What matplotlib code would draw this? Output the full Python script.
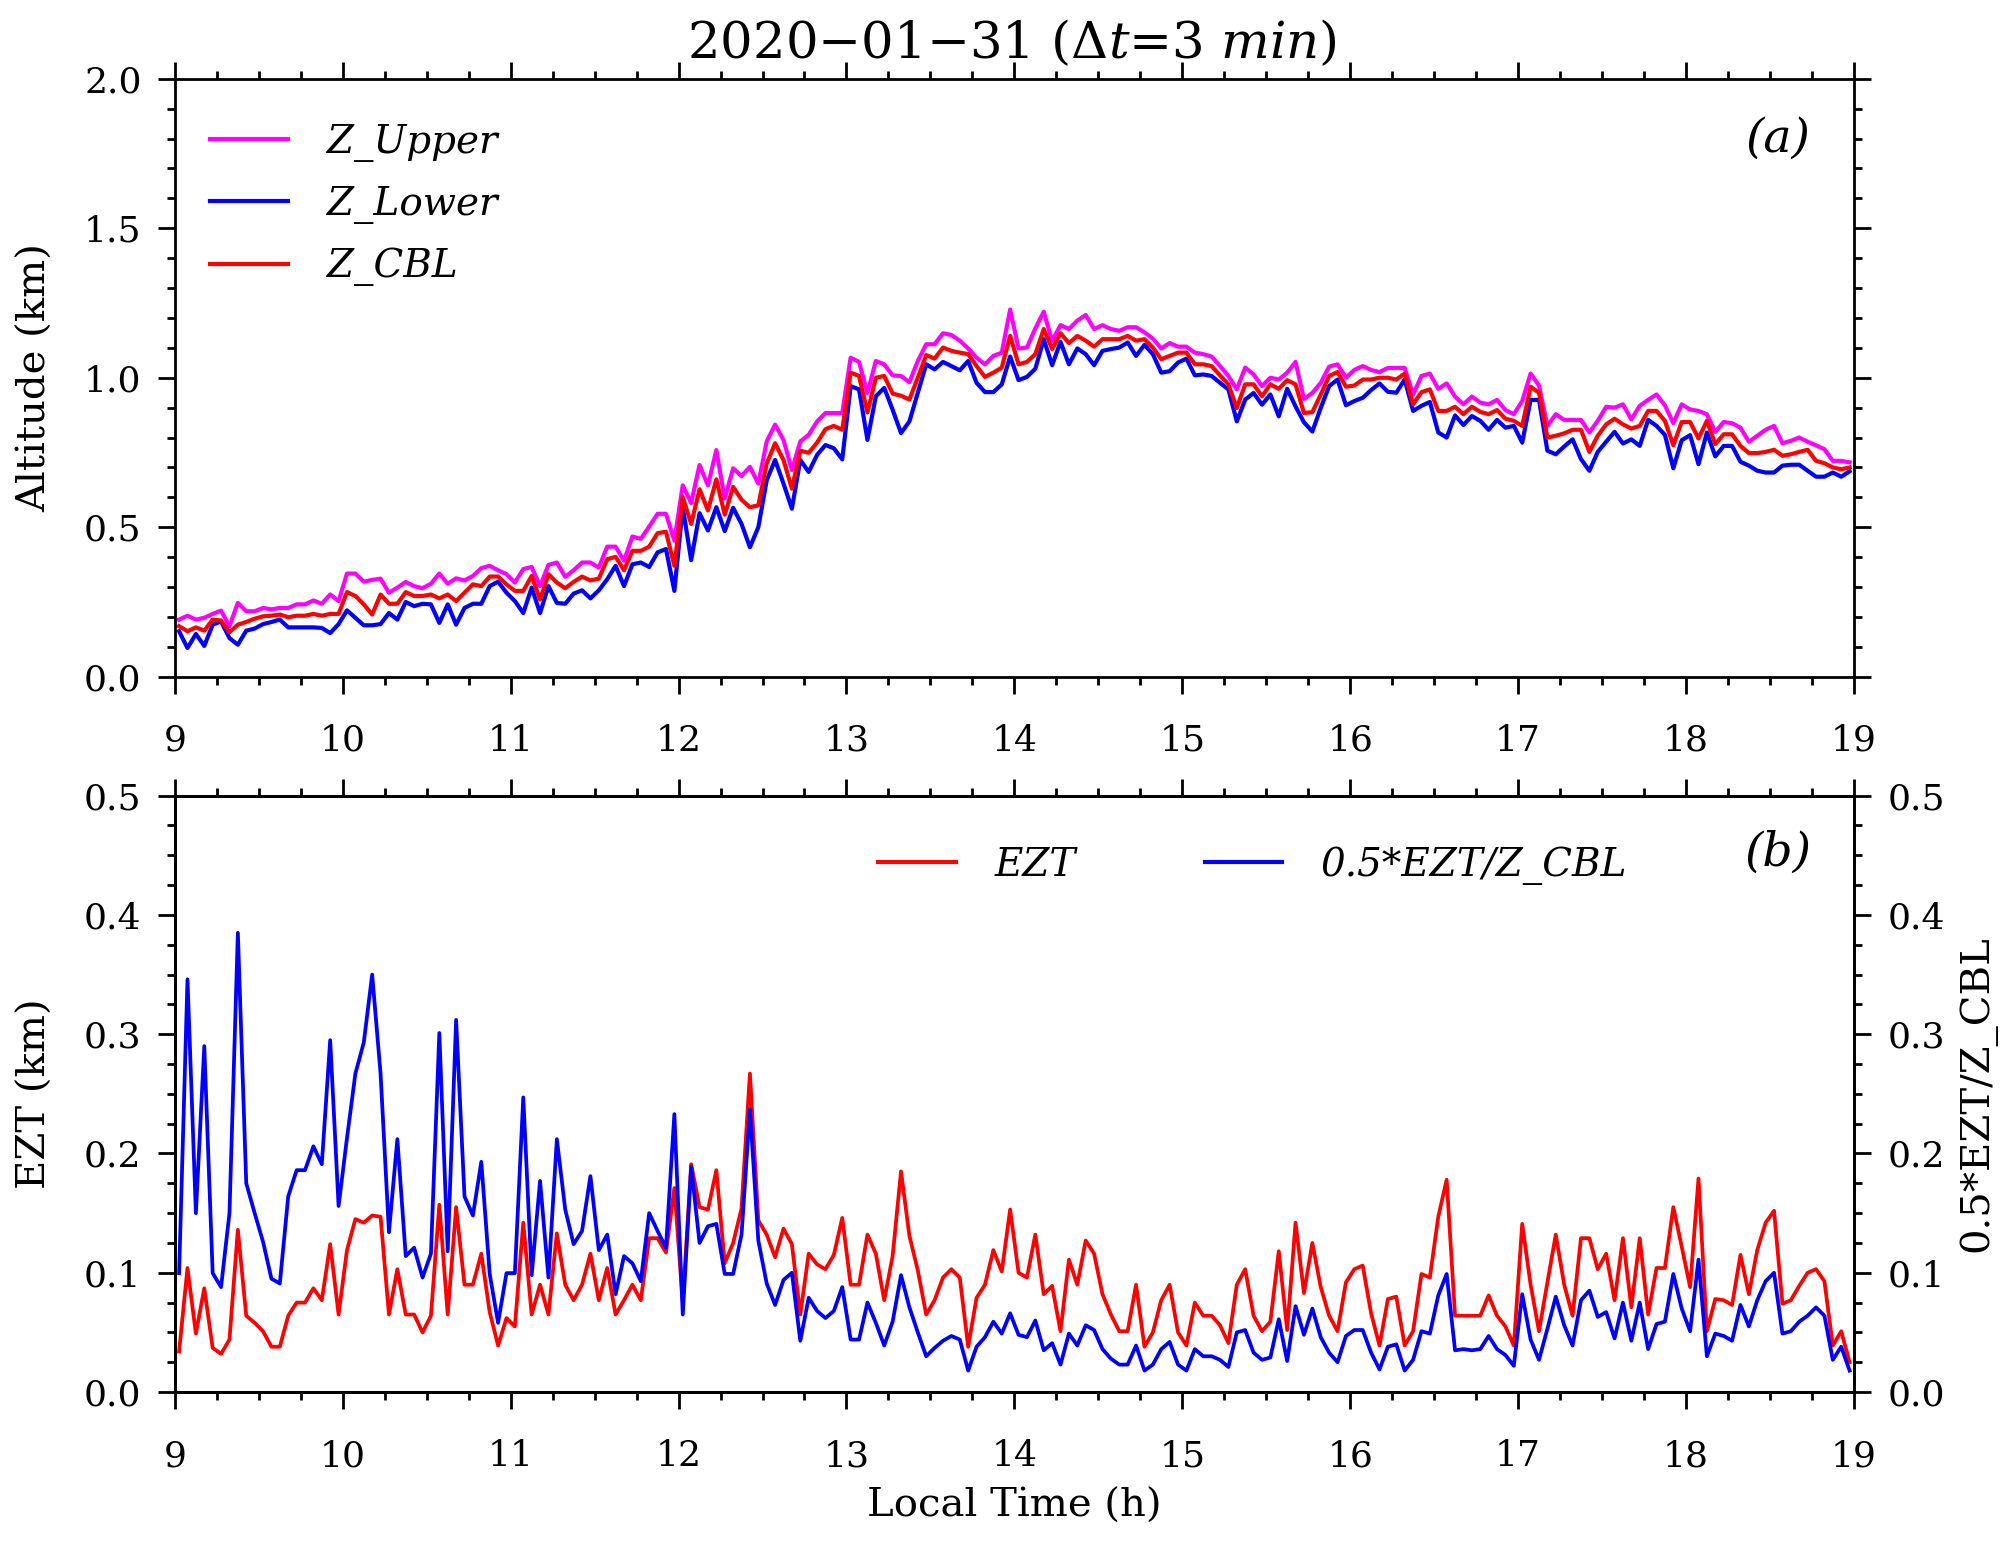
import numpy as np
import matplotlib
matplotlib.use("Agg")
import matplotlib.pyplot as plt
from matplotlib.ticker import MultipleLocator

# ---------------- data (3-min bins, 09:00-19:00 LT) ----------------
t_start, t_step, n_bins = 9.0, 0.05, 200
time_h = t_start + t_step * (np.arange(n_bins) + 0.5)

z_upper = [
    0.191, 0.204, 0.191, 0.197, 0.210, 0.221, 0.169, 0.247, 0.219, 0.219,
    0.230, 0.225, 0.230, 0.230, 0.242, 0.242, 0.255, 0.244, 0.275, 0.253,
    0.345, 0.345, 0.318, 0.324, 0.328, 0.281, 0.298, 0.317, 0.303, 0.296,
    0.311, 0.345, 0.311, 0.329, 0.322, 0.337, 0.363, 0.371, 0.356, 0.343,
    0.315, 0.360, 0.367, 0.303, 0.374, 0.382, 0.334, 0.356, 0.382, 0.382,
    0.365, 0.435, 0.435, 0.388, 0.469, 0.461, 0.502, 0.545, 0.545, 0.455,
    0.640, 0.581, 0.708, 0.640, 0.758, 0.596, 0.697, 0.671,
    0.702, 0.646, 0.787, 0.843, 0.792, 0.691, 0.787, 0.809, 0.854, 0.882, 0.882, 0.882,
    1.067, 1.053, 0.949, 1.056, 1.045, 1.008, 1.006, 0.985, 1.056, 1.112,
    1.112, 1.149, 1.143, 1.124, 1.098, 1.067, 1.045, 1.073, 1.084, 1.228,
    1.098, 1.101, 1.165, 1.221, 1.124, 1.176, 1.163, 1.191, 1.210, 1.163,
    1.176, 1.163, 1.157, 1.169, 1.169, 1.152, 1.131, 1.098, 1.116, 1.104,
    1.104, 1.084, 1.079, 1.071, 1.039, 1.006, 0.961, 1.034, 1.011, 0.972,
    1.000, 0.994, 1.017, 1.053, 0.929, 0.949, 0.983, 1.037, 1.045,
    1.000, 1.026, 1.039, 1.026, 1.019, 1.033, 1.033, 1.033, 0.944, 1.006,
    1.014, 0.963, 0.981, 0.937, 0.911, 0.937, 0.917, 0.911, 0.926, 0.892,
    0.878, 0.922, 1.014, 0.974, 0.839, 0.878, 0.859, 0.859, 0.859, 0.817,
    0.856, 0.903, 0.900, 0.911, 0.861, 0.906, 0.926, 0.944, 0.908, 0.848,
    0.911, 0.894, 0.889, 0.878, 0.819, 0.852, 0.848, 0.833, 0.786, 0.806,
    0.826, 0.839, 0.781, 0.789, 0.800, 0.786, 0.774, 0.761, 0.722, 0.722,
    0.717,
]

z_lower = [
    0.152, 0.096, 0.143, 0.103, 0.174, 0.185, 0.129, 0.107, 0.154, 0.161,
    0.176, 0.183, 0.191, 0.165, 0.165, 0.165, 0.165, 0.163, 0.146, 0.176,
    0.222, 0.197, 0.172, 0.172, 0.176, 0.213, 0.191, 0.250, 0.236, 0.244,
    0.242, 0.180, 0.242, 0.174, 0.230, 0.244, 0.244, 0.303, 0.318, 0.281,
    0.253, 0.213, 0.298, 0.213, 0.303, 0.247, 0.244, 0.278, 0.289, 0.262,
    0.289, 0.326, 0.371, 0.303, 0.376, 0.382, 0.367, 0.416, 0.427, 0.287,
    0.567, 0.390, 0.547, 0.489, 0.567, 0.487, 0.565, 0.511,
    0.433, 0.500, 0.657, 0.725, 0.646, 0.562, 0.725, 0.685, 0.742, 0.775, 0.764, 0.727,
    0.972, 0.961, 0.792, 0.938, 0.966, 0.893, 0.815, 0.854, 0.949, 1.045,
    1.028, 1.053, 1.039, 1.025, 1.056, 0.983, 0.952, 0.952, 0.978, 1.071,
    0.992, 1.003, 1.030, 1.129, 1.042, 1.120, 1.045, 1.098, 1.079, 1.042,
    1.090, 1.096, 1.101, 1.118, 1.073, 1.110, 1.079, 1.017, 1.022, 1.051,
    1.064, 1.008, 1.011, 1.006, 0.983, 0.961, 0.854, 0.927, 0.949, 0.910,
    0.944, 0.871, 0.963, 0.904, 0.851, 0.820, 0.899, 0.972, 0.994,
    0.908, 0.922, 0.933, 0.959, 0.981, 0.953, 0.950, 0.994, 0.889, 0.906,
    0.919, 0.817, 0.800, 0.874, 0.842, 0.872, 0.856, 0.826, 0.859, 0.833,
    0.839, 0.783, 0.926, 0.926, 0.756, 0.744, 0.770, 0.794, 0.728, 0.689,
    0.752, 0.786, 0.819, 0.780, 0.794, 0.772, 0.859, 0.839, 0.809, 0.697,
    0.791, 0.808, 0.711, 0.817, 0.737, 0.772, 0.772, 0.719, 0.706, 0.689,
    0.683, 0.683, 0.706, 0.709, 0.709, 0.689, 0.669, 0.669, 0.683, 0.669,
    0.687,
]

z_cbl = [
    0.169, 0.152, 0.165, 0.154, 0.191, 0.188, 0.149, 0.174, 0.183, 0.194,
    0.202, 0.204, 0.208, 0.199, 0.204, 0.204, 0.210, 0.204, 0.210, 0.210,
    0.283, 0.270, 0.242, 0.208, 0.275, 0.244, 0.244, 0.283, 0.270, 0.270,
    0.275, 0.262, 0.275, 0.253, 0.281, 0.309, 0.303, 0.335, 0.335, 0.309,
    0.287, 0.287, 0.337, 0.258, 0.343, 0.315, 0.296, 0.317, 0.335, 0.322,
    0.328, 0.393, 0.401, 0.356, 0.421, 0.421, 0.435, 0.480, 0.485, 0.371,
    0.601, 0.511, 0.627, 0.556, 0.660, 0.542, 0.635, 0.592,
    0.567, 0.573, 0.713, 0.781, 0.725, 0.629, 0.756, 0.749, 0.783, 0.828, 0.839, 0.826,
    1.017, 1.006, 0.884, 1.000, 1.006, 0.947, 0.940, 0.927, 1.000, 1.076,
    1.064, 1.101, 1.090, 1.084, 1.079, 1.039, 1.003, 1.017, 1.034, 1.140,
    1.045, 1.053, 1.079, 1.163, 1.096, 1.149, 1.116, 1.140, 1.124, 1.104,
    1.129, 1.129, 1.129, 1.140, 1.124, 1.129, 1.101, 1.062, 1.073, 1.084,
    1.084, 1.045, 1.045, 1.039, 1.008, 0.978, 0.899, 0.978, 0.978, 0.938,
    0.978, 0.963, 0.992, 0.978, 0.882, 0.885, 0.944, 1.006, 1.019,
    0.970, 0.974, 0.994, 0.994, 1.000, 1.000, 0.994, 1.014, 0.911, 0.952,
    0.961, 0.889, 0.889, 0.903, 0.878, 0.903, 0.886, 0.878, 0.892, 0.863,
    0.856, 0.839, 0.970, 0.950, 0.800, 0.806, 0.814, 0.826, 0.826, 0.752,
    0.806, 0.844, 0.863, 0.844, 0.830, 0.839, 0.889, 0.889, 0.856, 0.774,
    0.852, 0.852, 0.797, 0.856, 0.778, 0.811, 0.811, 0.772, 0.748, 0.748,
    0.752, 0.759, 0.739, 0.744, 0.752, 0.759, 0.722, 0.714, 0.700, 0.694,
    0.700,
]

ezt = [
    0.034, 0.104, 0.049, 0.087, 0.037, 0.032, 0.044, 0.136, 0.064, 0.058,
    0.051, 0.038, 0.038, 0.064, 0.075, 0.075, 0.087, 0.077, 0.124, 0.065,
    0.119, 0.145, 0.142, 0.148, 0.147, 0.065, 0.103, 0.065, 0.065, 0.050,
    0.064, 0.157, 0.065, 0.155, 0.090, 0.090, 0.116, 0.067, 0.039, 0.062,
    0.055, 0.142, 0.065, 0.090, 0.065, 0.133, 0.090, 0.077, 0.090, 0.116,
    0.077, 0.104, 0.065, 0.077, 0.090, 0.077, 0.129, 0.129, 0.117, 0.171,
    0.075, 0.191, 0.155, 0.153, 0.186, 0.108, 0.125, 0.154,
    0.267, 0.144, 0.132, 0.113, 0.137, 0.124, 0.065, 0.116, 0.107, 0.103, 0.115, 0.146,
    0.090, 0.090, 0.132, 0.116, 0.077, 0.114, 0.185, 0.131, 0.102, 0.065,
    0.077, 0.096, 0.103, 0.096, 0.038, 0.079, 0.090, 0.119, 0.101, 0.153,
    0.100, 0.096, 0.132, 0.082, 0.089, 0.051, 0.111, 0.090, 0.127, 0.116,
    0.082, 0.065, 0.051, 0.051, 0.090, 0.038, 0.050, 0.077, 0.090, 0.050,
    0.039, 0.075, 0.064, 0.064, 0.056, 0.041, 0.090, 0.103, 0.064, 0.051,
    0.059, 0.118, 0.052, 0.142, 0.083, 0.125, 0.088, 0.064, 0.051,
    0.092, 0.103, 0.106, 0.066, 0.039, 0.078, 0.080, 0.039, 0.051, 0.099,
    0.096, 0.147, 0.178, 0.064, 0.064, 0.064, 0.064, 0.081, 0.064, 0.055,
    0.039, 0.141, 0.090, 0.051, 0.092, 0.132, 0.090, 0.064, 0.129, 0.129,
    0.103, 0.116, 0.077, 0.129, 0.071, 0.129, 0.065, 0.104, 0.104, 0.155,
    0.122, 0.088, 0.179, 0.051, 0.078, 0.077, 0.073, 0.115, 0.082, 0.119,
    0.142, 0.152, 0.074, 0.077, 0.089, 0.100, 0.103, 0.093, 0.039, 0.051,
    0.025,
]

ratio = [
    0.0997, 0.346, 0.150, 0.290, 0.0997, 0.088, 0.150, 0.385, 0.175, 0.150,
    0.126, 0.095, 0.091, 0.164, 0.186, 0.186, 0.206, 0.191, 0.295, 0.156,
    0.213, 0.267, 0.293, 0.350, 0.267, 0.134, 0.212, 0.114, 0.121, 0.096,
    0.116, 0.301, 0.118, 0.312, 0.164, 0.148, 0.193, 0.099, 0.058, 0.0997,
    0.0997, 0.247, 0.098, 0.177, 0.096, 0.212, 0.153, 0.124, 0.135, 0.181,
    0.119, 0.132, 0.082, 0.114, 0.108, 0.093, 0.150, 0.135, 0.121, 0.233,
    0.065, 0.189, 0.125, 0.139, 0.141, 0.099, 0.099, 0.132,
    0.237, 0.127, 0.091, 0.073, 0.094, 0.100, 0.043, 0.079, 0.068, 0.062, 0.068, 0.088,
    0.044, 0.044, 0.075, 0.058, 0.039, 0.059, 0.098, 0.071, 0.050, 0.030,
    0.037, 0.043, 0.047, 0.044, 0.018, 0.038, 0.046, 0.059, 0.049, 0.066,
    0.048, 0.046, 0.060, 0.035, 0.041, 0.023, 0.049, 0.039, 0.056, 0.052,
    0.036, 0.028, 0.023, 0.023, 0.039, 0.018, 0.023, 0.036, 0.042, 0.023,
    0.018, 0.036, 0.030, 0.030, 0.027, 0.021, 0.050, 0.052, 0.033, 0.027,
    0.029, 0.061, 0.026, 0.072, 0.048, 0.070, 0.046, 0.033, 0.025,
    0.047, 0.052, 0.052, 0.033, 0.019, 0.038, 0.040, 0.018, 0.027, 0.051,
    0.049, 0.081, 0.099, 0.035, 0.036, 0.035, 0.036, 0.047, 0.036, 0.031,
    0.022, 0.082, 0.044, 0.027, 0.053, 0.080, 0.056, 0.039, 0.077, 0.085,
    0.063, 0.067, 0.045, 0.075, 0.043, 0.075, 0.036, 0.057, 0.059, 0.099,
    0.070, 0.051, 0.111, 0.030, 0.049, 0.047, 0.043, 0.073, 0.055, 0.077,
    0.093, 0.100, 0.049, 0.051, 0.059, 0.064, 0.071, 0.064, 0.027, 0.038,
    0.018,
]

title_txt = r"2020$-$01$-$31 ($\Delta\mathit{t}$=$\mathit{3\ min}$)"
labels_a = ["Z_Upper", "Z_Lower", "Z_CBL"]
labels_b = ["EZT", "0.5*EZT/Z_CBL"]

# ---------------- style ----------------
plt.rcParams["font.family"] = ["DejaVu Serif", "DejaVu Sans"]
plt.rcParams["mathtext.fontset"] = "dejavuserif"

TICK_FS = 26
LAB_FS = 29
LEG_FS = 28
LW_AX = 2.0

fig = plt.figure(figsize=(20.15, 15.45), dpi=100)
ax1 = fig.add_axes([0.0868, 0.562, 0.8332, 0.387])
ax2 = fig.add_axes([0.0868, 0.099, 0.8332, 0.386])


def style_axis(ax, ymaj, ymin, right_labels=False):
    for s in ax.spines.values():
        s.set_linewidth(LW_AX)
    ax.set_xlim(9, 19)
    ax.xaxis.set_major_locator(MultipleLocator(1))
    ax.xaxis.set_minor_locator(MultipleLocator(0.25))
    ax.yaxis.set_major_locator(MultipleLocator(ymaj))
    ax.yaxis.set_minor_locator(MultipleLocator(ymin))
    ax.tick_params(which="both", direction="out", top=True, right=True,
                   width=LW_AX, labelsize=TICK_FS, labelright=right_labels)
    ax.tick_params(which="major", length=12)
    ax.tick_params(which="minor", length=6)
    ax.tick_params(axis="x", which="major", pad=22)
    ax.tick_params(axis="y", which="major", pad=12)


# ---------------- panel (a) ----------------
ax1.plot(time_h, z_upper, color="#FF00FF", lw=3.0, label=labels_a[0])
ax1.plot(time_h, z_lower, color="#0000FF", lw=3.0, label=labels_a[1])
ax1.plot(time_h, z_cbl, color="#FF0000", lw=3.0, label=labels_a[2])
ax1.set_ylim(0, 2.0)
style_axis(ax1, 0.5, 0.1)
ax1.yaxis.set_major_formatter(matplotlib.ticker.FormatStrFormatter("%.1f"))
ax1.set_ylabel("Altitude (km)", fontsize=LAB_FS)
ax1.yaxis.set_label_coords(-0.072, 0.5)
leg1 = ax1.legend(loc="upper left", bbox_to_anchor=(0.021, 0.925), frameon=False,
                  prop={"style": "italic", "size": LEG_FS}, handlelength=2.0,
                  handletextpad=1.0, labelspacing=0.62, borderpad=0, borderaxespad=0)
for h in leg1.get_lines():
    h.set_linewidth(3.0)
ax1.text(0.955, 0.90, "(a)", transform=ax1.transAxes, fontsize=34,
         style="italic", ha="center", va="center")

# ---------------- panel (b) ----------------
ax2.plot(time_h, ezt, color="#FF0000", lw=2.7, label=labels_b[0])
ax2.plot(time_h, ratio, color="#0000FF", lw=2.7, label=labels_b[1])
ax2.set_ylim(0, 0.5)
style_axis(ax2, 0.1, 0.025)
ax2.yaxis.set_major_formatter(matplotlib.ticker.FormatStrFormatter("%.1f"))
ax2.set_ylabel("EZT (km)", fontsize=LAB_FS)
ax2.yaxis.set_label_coords(-0.072, 0.5)
ax2.set_xlabel("Local Time (h)", fontsize=LAB_FS)
ax2.xaxis.set_label_coords(0.5, -0.16)

ax2r = ax2.twinx()
ax2r.set_ylim(ax2.get_ylim())
ax2r.yaxis.set_major_locator(MultipleLocator(0.1))
ax2r.yaxis.set_minor_locator(MultipleLocator(0.025))
ax2r.yaxis.set_major_formatter(matplotlib.ticker.FormatStrFormatter("%.1f"))
ax2r.tick_params(which="both", direction="out", width=LW_AX, labelsize=TICK_FS, pad=12)
ax2r.tick_params(which="major", length=12)
ax2r.tick_params(which="minor", length=6)
for s in ax2r.spines.values():
    s.set_linewidth(LW_AX)
ax2r.set_ylabel("0.5*EZT/Z_CBL", fontsize=LAB_FS)
ax2r.yaxis.set_label_coords(1.062, 0.5)

leg2 = ax2.legend(loc="upper left", bbox_to_anchor=(0.419, 0.915), frameon=False, ncol=2,
                  prop={"style": "italic", "size": LEG_FS}, handlelength=2.0,
                  handletextpad=1.0, columnspacing=3.3, borderpad=0, borderaxespad=0)
for h in leg2.get_lines():
    h.set_linewidth(3.0)
ax2.text(0.955, 0.903, "(b)", transform=ax2.transAxes, fontsize=34,
         style="italic", ha="center", va="center")

fig.text(0.502, 0.972, title_txt, fontsize=37, ha="center", va="center")

fig.savefig("out.png", dpi=100)
